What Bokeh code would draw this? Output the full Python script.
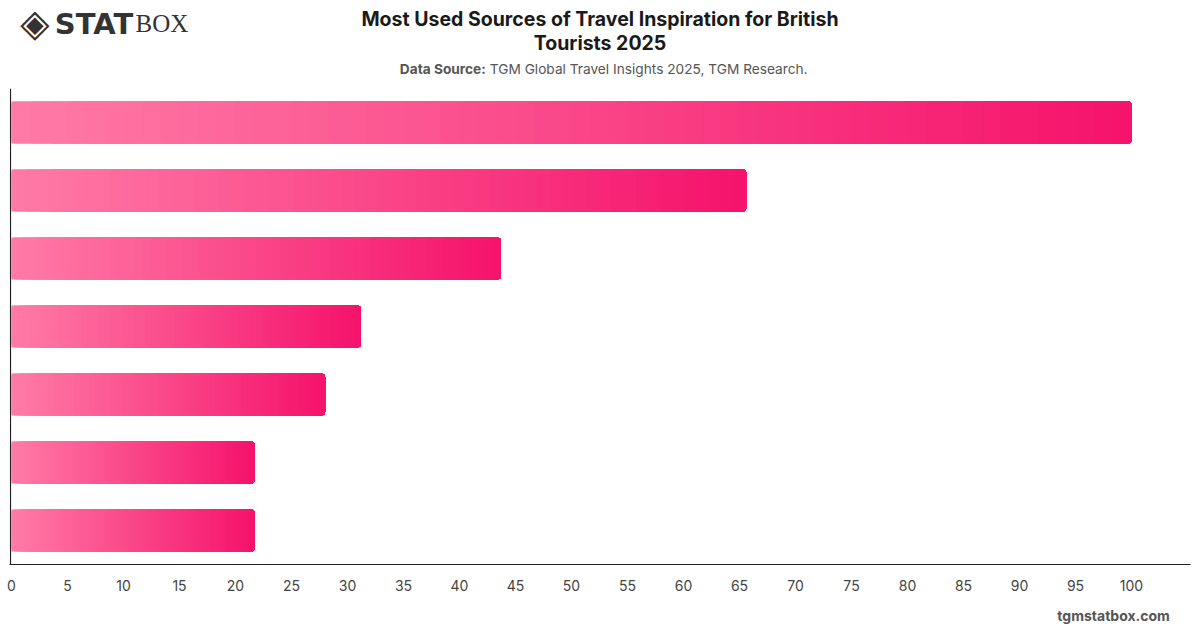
from bokeh.plotting import figure
from bokeh.layouts import column
from bokeh.models import Label, Span, FixedTicker, ColumnDataSource, Range1d
from bokeh.embed import file_html
from bokeh.resources import INLINE

# ---- data ----
categories = ["Social media", "Friends and family", "Travel review sites",
              "Search engines", "Travel agents", "TV and films", "Travel blogs"]
values = [100.0, 65.6, 43.7, 31.2, 28.0, 21.7, 21.7]
x_ticks = list(range(0, 101, 5))

title_lines = ["Most Used Sources of Travel Inspiration for British", "Tourists 2025"]
source_bold = "Data Source:"
source_text = "TGM Global Travel Insights 2025, TGM Research."
footer = "tgmstatbox.com"
logo_mark = "\u25c8"
logo_bold = "STAT"
logo_light = "BOX"

# ---- layout constants ----
W, H = 1200, 628
TOP_H = 88          # header strip
BOT_H = 28          # footer strip
MAIN_H = H - TOP_H - BOT_H
FL, FR = 9, 1190    # frame left / right in px
FRAME_H = 476
n = len(categories)


def strip(height, y_top):
    f = figure(width=W, height=height, output_backend="svg", toolbar_location=None,
               x_range=Range1d(0, W), y_range=Range1d(y_top + height, y_top),
               x_axis_location=None, y_axis_location=None, min_border=0)
    f.outline_line_color = None
    f.grid.visible = False
    f.background_fill_color = "white"
    f.border_fill_color = "white"
    return f


def lab(f, text, cx, cy, size, color, style="normal", align="left", font="Inter"):
    f.add_layout(Label(x=cx, y=cy, text=text, text_font=font, text_font_size=size,
                       text_color=color, text_font_style=style,
                       text_align=align, text_baseline="middle"))


# ---- header ----
top = strip(TOP_H, 0)
lab(top, title_lines[0], 600, 18, "19.5px", "#1a1a1a", "bold", "center")
lab(top, title_lines[1], 600, 42, "19.5px", "#1a1a1a", "bold", "center")
lab(top, source_bold, 484, 68, "13.7px", "#555555", "bold", "right")
lab(top, source_text, 488, 68, "13.7px", "#555555", "normal", "left")
lab(top, logo_mark, 11, 22, "38px", "#333333", "normal", "left", "DejaVu Sans")
lab(top, logo_bold, 46, 23, "29px", "#333333", "bold", "left", "DejaVu Sans")
lab(top, logo_light, 128, 23, "25px", "#333333", "normal", "left", "Liberation Sans Narrow")

# ---- main chart ----
px_per_unit = 11.2
x0 = -(11 - FL) / px_per_unit
x1 = x0 + (FR - FL) / px_per_unit
p = figure(width=W, height=MAIN_H, output_backend="svg", toolbar_location=None,
           y_range=Range1d(n, 0), x_range=Range1d(x0, x1),
           min_border_left=FL, min_border_right=W - FR, min_border_top=0,
           min_border_bottom=MAIN_H - FRAME_H)
p.outline_line_color = None
p.grid.visible = False
p.yaxis.visible = False
p.background_fill_color = "white"
p.border_fill_color = "white"

xa = p.xaxis[0]
xa.ticker = FixedTicker(ticks=x_ticks)
xa.axis_line_color = "#222222"
xa.axis_line_width = 1.2
xa.major_tick_line_color = None
xa.minor_tick_line_color = None
xa.major_label_standoff = 9
xa.major_label_text_font = "Inter"
xa.major_label_text_font_size = "14px"
xa.major_label_text_color = "#444444"

p.add_layout(Span(location=x0 / 2, dimension="height", line_color="#222222", line_width=1.2))

# gradient bars: square base + layered slices, each running to the bar end
N = 60
c0 = (255, 122, 166)
c1 = (245, 19, 107)
ycen = [k + 0.5 for k in range(n)]
base = ColumnDataSource(dict(y=ycen, right=[v / 2 for v in values]))
p.hbar(y="y", left=0, right="right", height=0.62, source=base,
       fill_color="#%02x%02x%02x" % c0, line_color=None)

lefts, rights, ys, cols, cats = [], [], [], [], []
for k, (cat, v) in enumerate(zip(categories, values)):
    for i in range(N):
        t = i / (N - 1)
        col = tuple(round(c0[j] + (c1[j] - c0[j]) * t) for j in range(3))
        lefts.append(v * i / N)
        rights.append(v)
        ys.append(ycen[k])
        cats.append(cat)
        cols.append("#%02x%02x%02x" % col)
src = ColumnDataSource(dict(left=lefts, right=rights, y=ys, color=cols, cat=cats))
p.hbar(y="y", left="left", right="right", height=0.62, source=src,
       fill_color="color", line_color=None, border_radius=4)

# ---- footer ----
bot = strip(BOT_H, TOP_H + MAIN_H)
lab(bot, footer, 1179, 615, "14px", "#555555", "bold", "right")

layout = column(top, p, bot, spacing=0)
open("out.html", "w").write(file_html(layout, INLINE))
